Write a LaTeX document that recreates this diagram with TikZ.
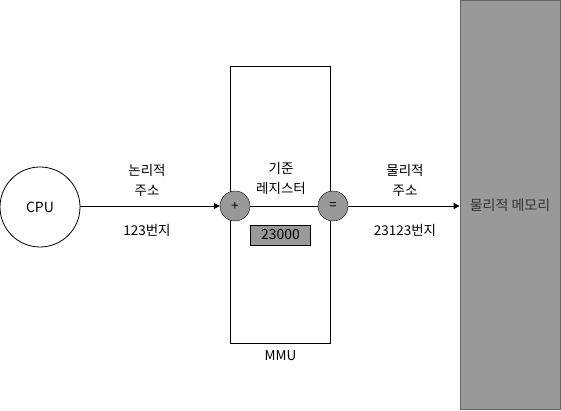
\documentclass[tikz,border=0pt]{standalone}
\usepackage{fontspec}
\setmainfont{Noto Sans CJK KR}
\usetikzlibrary{arrows.meta}
\definecolor{fillgray}{HTML}{999999}
\definecolor{edgegray}{HTML}{666666}
\definecolor{txtgray}{HTML}{333333}
\tikzset{
  lbl/.style={align=center, font=\fontsize{13.5}{20}\selectfont, inner sep=0pt},
  opcircle/.style={circle, draw=black, fill=fillgray, minimum size=30pt, inner sep=0pt, font=\fontsize{13}{14}\selectfont},
  conn/.style={draw=black, line width=0.8pt},
  arr/.style={conn, -{Triangle[length=6pt,width=6pt]}}
}
\begin{document}
\begin{tikzpicture}[x=1pt,y=-1pt]
\useasboundingbox (0,0) rectangle (561,411);
% MMU box
\node[draw=black, line width=0.8pt, minimum width=100pt, minimum height=277pt, inner sep=0pt] (mmu) at (280.5,205) {};
\node[lbl] (mmulbl) at (280.5,356) {MMU};
% memory
\node[draw=edgegray, fill=fillgray, line width=0.8pt, minimum width=100pt, minimum height=409pt, inner sep=0pt, font=\fontsize{14}{16}\selectfont, text=txtgray] (mem) at (510,205) {물리적 메모리};
% CPU
\node[circle, draw=black, line width=0.8pt, minimum size=80pt, inner sep=0pt, font=\fontsize{14}{16}\selectfont] (cpu) at (40,207) {CPU};
% operators
\node[opcircle] (plus) at (235,206) {+};
\node[opcircle] (eq) at (333,206) {=};
% register
\node[draw=black, fill=fillgray, line width=0.8pt, minimum width=60pt, minimum height=20pt, inner sep=0pt, font=\fontsize{14}{16}\selectfont] (reg) at (280.5,235) {23000};
% connectors
\draw[arr] (cpu.east |- plus) -- (plus.west);
\draw[conn] (plus.east) -- (eq.west);
\draw[arr] (eq.east) -- (mem.west |- eq);
% labels
\node[lbl] (l1) at (147,180) {논리적\\주소};
\node[lbl] (l2) at (147,230) {123번지};
\node[lbl] (l3) at (281,178) {기준\\레지스터};
\node[lbl] (l4) at (405,180) {물리적\\주소};
\node[lbl] (l5) at (405,230) {23123번지};
\end{tikzpicture}
\end{document}
